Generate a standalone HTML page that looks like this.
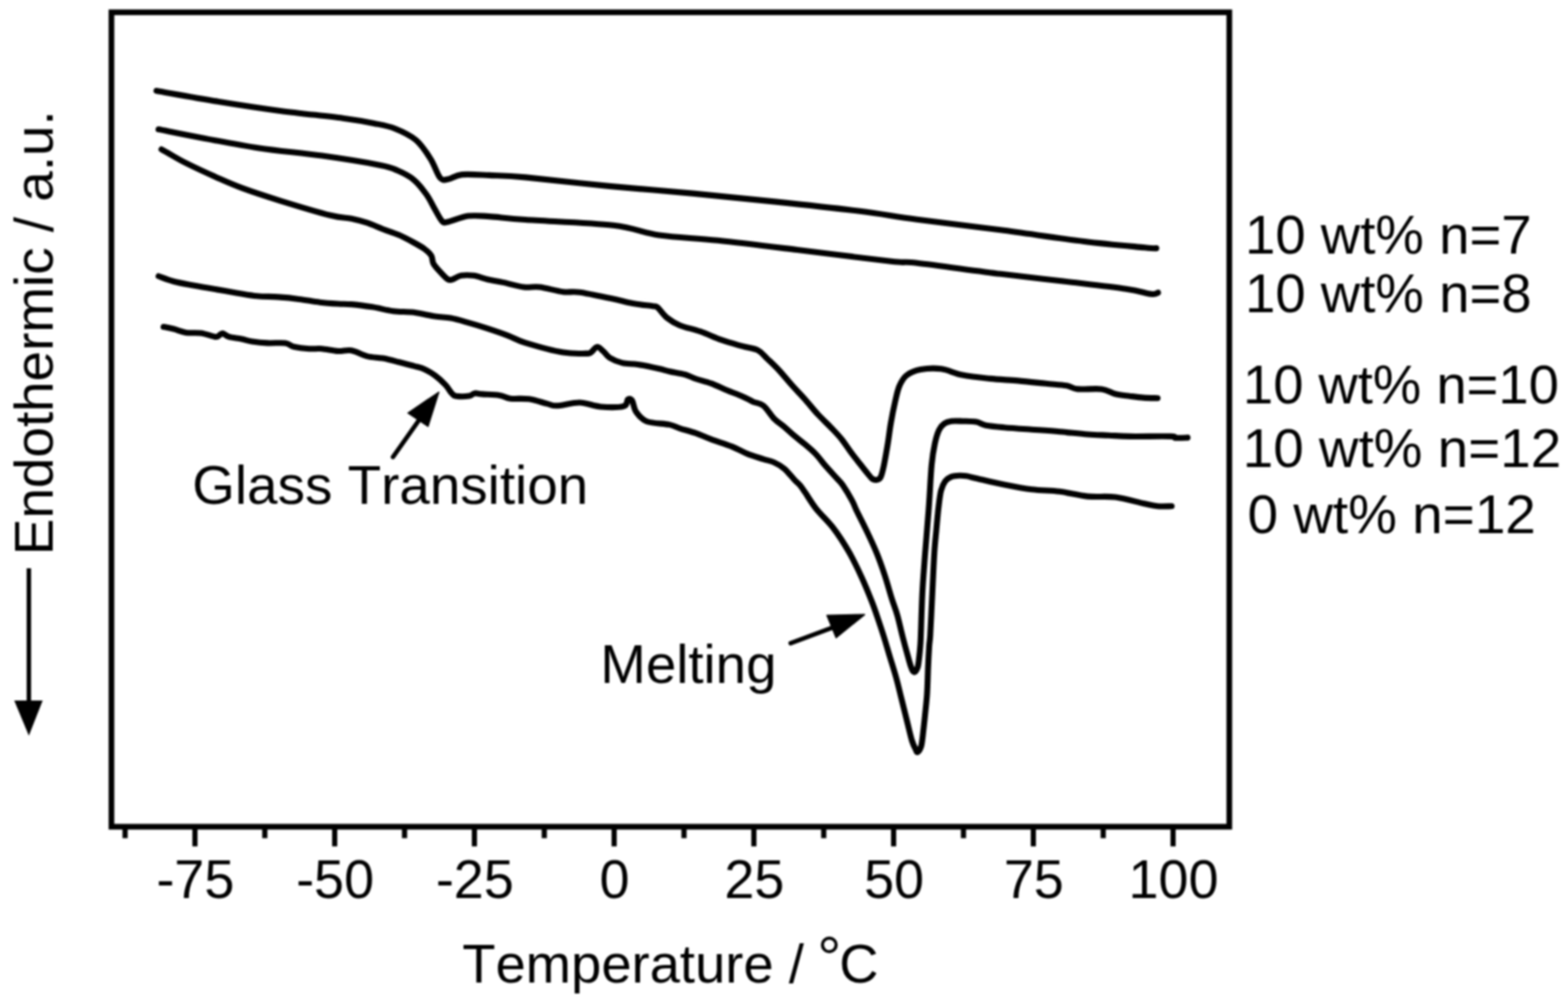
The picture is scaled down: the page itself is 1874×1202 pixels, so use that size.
<!DOCTYPE html>
<html lang="en">
<head>
<meta charset="utf-8">
<title>DSC thermograms</title>
<style>
html,body{margin:0;padding:0;background:#fff;}
body{width:1874px;height:1202px;overflow:hidden;}
svg{display:block;}
text{font-family:"Liberation Sans",sans-serif;fill:#000;font-kerning:none;}
.cv{fill:none;stroke:#000;stroke-width:7.1;stroke-linejoin:round;stroke-linecap:round;}
</style>
</head>
<body>
<svg width="1874" height="1202" viewBox="0 0 1874 1202">
<rect x="0" y="0" width="1874" height="1202" fill="#fff"/>
<defs><filter id="soft" x="0" y="0" width="100%" height="100%" filterUnits="userSpaceOnUse"><feGaussianBlur stdDeviation="0.8"/></filter></defs>
<g filter="url(#soft)">
<rect x="133.2" y="14.7" width="1336" height="973.1" fill="none" stroke="#000" stroke-width="6.8"/>
<line x1="233" y1="988" x2="233" y2="1011.3" stroke="#000" stroke-width="6.2"/>
<line x1="400" y1="988" x2="400" y2="1011.3" stroke="#000" stroke-width="6.2"/>
<line x1="567" y1="988" x2="567" y2="1011.3" stroke="#000" stroke-width="6.2"/>
<line x1="734" y1="988" x2="734" y2="1011.3" stroke="#000" stroke-width="6.2"/>
<line x1="901" y1="988" x2="901" y2="1011.3" stroke="#000" stroke-width="6.2"/>
<line x1="1068" y1="988" x2="1068" y2="1011.3" stroke="#000" stroke-width="6.2"/>
<line x1="1235" y1="988" x2="1235" y2="1011.3" stroke="#000" stroke-width="6.2"/>
<line x1="1402" y1="988" x2="1402" y2="1011.3" stroke="#000" stroke-width="6.2"/>
<line x1="149.5" y1="988" x2="149.5" y2="1001.5" stroke="#000" stroke-width="6.2"/>
<line x1="316.5" y1="988" x2="316.5" y2="1001.5" stroke="#000" stroke-width="6.2"/>
<line x1="483.5" y1="988" x2="483.5" y2="1001.5" stroke="#000" stroke-width="6.2"/>
<line x1="650.5" y1="988" x2="650.5" y2="1001.5" stroke="#000" stroke-width="6.2"/>
<line x1="817.5" y1="988" x2="817.5" y2="1001.5" stroke="#000" stroke-width="6.2"/>
<line x1="984.5" y1="988" x2="984.5" y2="1001.5" stroke="#000" stroke-width="6.2"/>
<line x1="1151.5" y1="988" x2="1151.5" y2="1001.5" stroke="#000" stroke-width="6.2"/>
<line x1="1318.5" y1="988" x2="1318.5" y2="1001.5" stroke="#000" stroke-width="6.2"/>
<text x="233.5" y="1072.9" font-size="64.5" text-anchor="middle">-75</text>
<text x="400.5" y="1072.9" font-size="64.5" text-anchor="middle">-50</text>
<text x="567.5" y="1072.9" font-size="64.5" text-anchor="middle">-25</text>
<text x="734.5" y="1072.9" font-size="64.5" text-anchor="middle">0</text>
<text x="901.5" y="1072.9" font-size="64.5" text-anchor="middle">25</text>
<text x="1068.5" y="1072.9" font-size="64.5" text-anchor="middle">50</text>
<text x="1235.5" y="1072.9" font-size="64.5" text-anchor="middle">75</text>
<text x="1402.5" y="1072.9" font-size="64.5" text-anchor="middle">100</text>
<text x="552.5" y="1173.7" font-size="65">Temperature / <tspan dy="-4.5" dx="-2" font-size="72">°</tspan><tspan dy="4.5" dx="-2.5">C</tspan></text>
<text transform="translate(62.5,663.3) rotate(-90)" font-size="65.5">Endothermic / a.u.</text>
<line x1="34.5" y1="679" x2="34.5" y2="845" stroke="#000" stroke-width="5.3"/>
<polygon points="17,837 51,837 34.5,879" fill="#000"/>
<path class="cv" d="M187.0,108.5C199.2,110.6 235.4,117.2 260.0,121.2C284.6,125.2 309.9,129.1 334.8,132.4C359.8,135.7 391.0,138.7 409.7,141.2C428.4,143.7 436.8,145.3 447.2,147.4C457.6,149.5 463.9,150.4 472.2,153.7C480.5,157.0 490.1,161.4 497.2,167.4C504.3,173.4 509.8,182.4 514.6,189.9C519.4,197.4 522.4,208.5 526.0,212.5C529.6,216.5 531.6,214.7 536.0,214.0C540.4,213.3 544.0,209.4 552.1,208.6C560.2,207.8 572.0,208.8 584.6,209.4C597.2,210.0 604.1,209.7 628.0,211.9C651.9,214.1 694.6,219.2 727.9,222.4C761.2,225.6 794.5,228.0 827.8,231.1C861.1,234.2 894.4,237.6 927.7,241.1C961.0,244.6 999.5,248.8 1027.6,252.3C1055.6,255.8 1068.0,258.6 1096.0,262.3C1124.0,266.1 1162.6,270.4 1195.9,274.8C1229.2,279.2 1267.1,285.0 1295.8,288.5C1324.5,292.0 1353.6,294.4 1368.0,295.8C1382.4,297.2 1379.7,296.5 1382.0,296.6"/>
<path class="cv" d="M189.5,154.5C198.3,156.2 222.3,161.2 242.4,164.9C262.4,168.6 286.1,173.4 309.8,176.9C333.5,180.4 360.7,182.7 384.8,186.1C408.9,189.5 439.7,194.5 454.7,197.4C469.7,200.3 468.0,200.7 474.7,203.6C481.4,206.5 488.9,210.1 494.7,214.9C500.5,219.7 505.5,226.5 509.6,232.3C513.8,238.1 516.5,244.5 519.6,249.8C522.7,255.1 525.9,261.7 528.4,264.3C530.9,266.9 529.4,266.3 534.6,265.3C539.8,264.3 551.3,259.2 559.6,258.1C567.9,257.0 573.2,257.9 584.6,258.6C596.0,259.3 603.3,260.7 628.0,262.5C652.7,264.3 706.3,266.2 732.9,269.3C759.5,272.4 767.0,278.0 787.8,281.0C808.6,284.0 830.3,284.4 857.8,287.3C885.3,290.2 918.2,294.3 952.7,298.5C987.2,302.7 1041.1,309.7 1065.0,312.3C1088.9,314.9 1074.2,311.7 1096.0,314.2C1117.8,316.7 1166.8,323.7 1195.9,327.3C1225.0,330.9 1245.8,333.0 1270.8,336.0C1295.8,339.0 1328.3,342.6 1345.8,345.2C1363.3,347.8 1369.3,350.6 1375.7,351.3C1382.1,352.1 1382.6,350.0 1384.0,349.7"/>
<path class="cv" d="M193.0,178.5C194.2,179.2 195.1,179.7 200.0,182.4C204.9,185.1 212.4,189.9 222.4,194.9C232.4,199.9 248.6,207.4 259.9,212.4C271.1,217.4 277.4,220.3 289.9,224.9C302.4,229.5 317.3,234.4 334.8,239.8C352.3,245.2 380.6,253.7 394.8,257.3C409.0,260.9 412.7,259.7 420.0,261.2C427.3,262.7 432.4,264.1 438.7,266.2C444.9,268.3 451.2,271.3 457.5,273.7C463.8,276.1 470.0,277.9 476.2,280.6C482.4,283.3 489.7,287.2 494.9,290.0C500.1,292.8 504.0,294.9 507.4,297.5C510.8,300.1 513.7,302.6 515.5,305.5C517.3,308.4 516.2,311.7 518.0,314.9C519.8,318.1 523.3,321.8 526.1,324.9C528.9,328.0 532.6,332.0 534.9,333.5C537.2,335.0 537.2,334.8 539.9,334.1C542.6,333.4 546.7,330.1 551.1,329.3C555.5,328.5 560.9,328.6 566.1,329.3C571.3,330.0 576.5,332.4 582.3,333.7C588.1,335.0 593.7,335.8 601.0,337.4C608.3,338.9 618.7,342.1 626.0,343.0C633.3,343.9 637.0,342.1 644.8,343.0C652.6,343.9 665.0,347.7 673.0,348.7C681.0,349.7 683.2,347.8 692.9,349.2C702.6,350.6 720.7,354.6 731.2,356.8C741.8,359.0 748.1,361.0 756.2,362.5C764.3,364.0 775.0,365.0 780.0,365.8C785.0,366.6 783.1,365.1 786.0,367.5C788.9,369.9 793.0,376.4 797.4,379.9C801.8,383.4 805.8,386.0 812.4,388.7C819.0,391.4 829.0,393.3 837.3,396.2C845.6,399.1 854.0,403.3 862.3,406.2C870.6,409.1 880.0,411.6 887.3,413.7C894.6,415.8 901.0,416.1 906.0,418.6C911.0,421.2 913.2,425.0 917.4,429.0C921.6,433.0 926.1,437.1 931.1,442.5C936.1,447.9 942.1,455.4 947.3,461.2C952.5,467.0 957.3,471.8 962.3,477.4C967.3,483.0 972.1,489.3 977.3,494.9C982.5,500.5 988.7,506.2 993.5,511.2C998.3,516.2 1001.8,519.7 1006.0,524.9C1010.2,530.1 1014.8,537.5 1018.5,542.4C1022.2,547.3 1024.9,550.5 1028.0,554.5C1031.1,558.5 1034.9,563.3 1037.3,566.2C1039.7,569.1 1040.6,570.8 1042.3,572.0C1044.0,573.2 1045.6,573.6 1047.3,573.4C1049.0,573.1 1050.8,573.2 1052.3,570.5C1053.8,567.8 1054.6,564.2 1056.1,557.4C1057.6,550.6 1059.6,538.6 1061.1,529.9C1062.5,521.2 1063.3,513.3 1064.8,505.0C1066.2,496.7 1068.1,487.3 1069.8,480.0C1071.5,472.7 1072.7,466.2 1075.0,461.0C1077.3,455.8 1079.3,451.7 1083.5,448.5C1087.7,445.3 1093.1,442.9 1100.0,441.6C1106.9,440.3 1116.7,439.7 1125.0,440.8C1133.3,441.9 1140.3,446.1 1150.0,448.0C1159.7,449.9 1172.2,451.2 1183.3,452.4C1194.4,453.6 1205.5,453.9 1216.6,454.9C1227.7,455.9 1240.2,457.3 1249.9,458.3C1259.6,459.3 1268.4,459.7 1274.8,460.8C1281.2,461.9 1281.1,464.2 1288.1,464.9C1295.0,465.6 1309.0,463.9 1316.5,464.9C1324.0,465.9 1327.5,469.4 1333.1,470.8C1338.6,472.2 1344.2,472.5 1349.8,473.2C1355.3,473.9 1360.8,474.7 1366.4,475.1C1372.0,475.5 1380.7,475.6 1383.5,475.7"/>
<path class="cv" d="M189.5,330.0C192.5,331.0 200.3,334.3 207.5,336.2C214.7,338.1 224.1,339.6 232.4,341.2C240.7,342.8 249.1,344.2 257.4,345.6C265.7,347.1 274.1,348.5 282.4,349.9C290.7,351.2 299.0,352.9 307.3,353.7C315.6,354.5 324.0,354.3 332.3,354.9C340.6,355.5 349.0,356.3 357.3,357.4C365.6,358.4 374.5,360.3 382.3,361.2C390.1,362.1 397.7,362.6 404.0,363.0C410.3,363.4 413.2,363.0 420.0,363.6C426.8,364.2 436.7,365.5 445.0,366.8C453.3,368.1 461.6,370.6 469.9,371.7C478.2,372.8 486.6,372.2 494.9,373.3C503.2,374.4 512.6,376.9 519.9,378.0C527.2,379.1 532.4,379.0 538.6,380.1C544.8,381.2 550.0,382.8 557.3,384.9C564.6,386.9 574.0,389.7 582.3,392.4C590.6,395.1 599.7,398.2 607.3,401.1C614.9,404.0 617.0,406.3 628.0,409.6C639.0,412.9 661.0,419.0 673.0,421.1C685.0,423.2 694.5,422.4 700.0,422.4C705.5,422.4 703.9,422.4 706.2,421.1C708.5,419.8 711.2,414.7 713.7,414.5C716.2,414.3 718.7,417.8 721.2,419.9C723.7,422.0 725.0,425.1 728.7,427.4C732.5,429.7 738.1,432.2 743.7,433.6C749.3,435.0 755.1,434.4 762.4,435.5C769.7,436.6 781.1,439.1 787.4,440.5C793.7,441.9 794.8,442.5 800.0,443.7C805.2,444.9 813.5,446.0 818.7,447.5C823.9,449.0 826.0,450.7 831.2,452.5C836.4,454.3 843.6,455.8 849.9,458.1C856.1,460.4 862.5,463.6 868.7,466.2C875.0,468.8 882.2,471.4 887.4,473.7C892.6,476.0 895.7,478.0 899.9,479.9C904.1,481.8 908.2,481.5 912.4,484.8C916.6,488.1 920.8,495.7 924.9,499.9C929.0,504.1 933.1,506.4 937.3,509.9C941.4,513.4 945.6,517.6 949.8,521.1C954.0,524.6 958.1,527.6 962.3,531.1C966.5,534.6 970.6,538.0 974.8,542.4C979.0,546.8 983.1,552.6 987.3,557.4C991.5,562.2 996.5,567.4 999.8,571.1C1003.1,574.8 1004.2,575.2 1007.3,579.8C1010.4,584.4 1015.9,593.6 1018.6,598.6C1021.3,603.6 1021.0,604.4 1023.7,610.0C1026.4,615.6 1031.0,624.2 1034.9,632.5C1038.9,640.8 1043.7,650.8 1047.4,659.9C1051.2,669.0 1054.3,678.0 1057.4,687.4C1060.5,696.8 1063.6,708.2 1066.1,716.1C1068.6,724.0 1070.3,727.6 1072.4,734.9C1074.5,742.2 1076.7,752.7 1078.6,760.0C1080.5,767.3 1081.9,772.7 1083.6,778.7C1085.3,784.7 1087.1,792.1 1088.6,796.2C1090.1,800.3 1091.1,802.9 1092.4,803.1C1093.8,803.3 1095.7,800.5 1096.7,797.5C1097.7,794.5 1098.1,789.2 1098.6,785.0C1099.1,780.8 1099.5,776.7 1099.8,772.5C1100.1,768.3 1100.1,770.4 1100.5,760.0C1100.9,749.6 1101.6,724.5 1102.3,709.9C1103.0,695.3 1104.0,683.8 1104.8,672.4C1105.6,661.0 1106.5,651.6 1107.3,641.2C1108.1,630.8 1109.2,618.1 1109.8,610.0C1110.4,601.9 1110.4,601.6 1111.0,592.4C1111.6,583.2 1112.5,565.3 1113.5,554.9C1114.5,544.5 1115.8,536.8 1117.3,529.9C1118.8,523.0 1120.4,517.7 1122.3,513.7C1124.2,509.8 1126.0,507.9 1128.5,506.2C1131.0,504.4 1133.4,503.7 1137.0,503.2C1140.6,502.7 1145.1,503.0 1150.0,503.2C1154.9,503.4 1161.9,503.3 1166.6,504.1C1171.3,504.9 1172.8,507.1 1178.3,508.2C1183.8,509.3 1190.8,509.9 1199.9,510.7C1209.1,511.5 1222.1,512.4 1233.2,513.2C1244.3,514.0 1255.4,514.7 1266.5,515.7C1277.6,516.7 1290.0,518.2 1299.8,519.0C1309.5,519.8 1316.7,519.8 1325.0,520.2C1333.3,520.6 1337.5,521.2 1349.8,521.4C1362.1,521.6 1389.8,521.1 1399.0,521.4C1408.2,521.7 1401.6,523.0 1405.0,523.2C1408.4,523.5 1416.9,523.0 1419.3,522.9"/>
<path class="cv" d="M195.5,390.5C197.5,390.9 203.0,391.9 207.5,393.0C212.0,394.1 217.0,396.6 222.4,397.4C227.8,398.2 234.1,397.2 239.9,398.0C245.7,398.8 253.8,401.9 257.4,402.4C261.0,402.9 260.1,401.8 261.5,401.1C262.9,400.4 264.1,398.1 266.1,398.3C268.1,398.5 269.9,401.3 273.6,402.4C277.4,403.5 284.0,404.0 288.6,404.9C293.2,405.8 295.9,407.2 301.1,408.0C306.3,408.8 313.1,409.6 319.8,409.9C326.5,410.2 335.9,409.2 341.1,409.9C346.3,410.6 346.2,413.1 351.0,414.2C355.8,415.3 364.2,416.3 369.8,416.7C375.4,417.1 379.1,416.2 384.8,416.7C390.5,417.2 398.1,419.2 404.0,419.5C409.9,419.8 414.2,417.7 420.0,418.7C425.8,419.7 432.4,424.0 438.7,425.6C444.9,427.2 451.2,427.0 457.5,428.1C463.8,429.2 470.0,430.9 476.2,432.5C482.4,434.1 489.7,435.9 494.9,437.4C500.1,438.8 503.2,439.3 507.4,441.2C511.6,443.1 515.7,445.6 519.9,448.7C524.1,451.8 529.1,456.4 532.4,459.9C535.7,463.4 537.8,467.7 539.9,469.9C542.0,472.1 541.4,472.7 544.9,473.2C548.4,473.7 557.4,473.6 561.1,473.0C564.8,472.4 564.8,470.2 567.3,469.9C569.8,469.5 571.1,470.5 576.1,470.9C581.1,471.3 591.7,471.5 597.3,472.4C602.9,473.3 604.0,475.5 609.8,476.2C615.6,476.9 624.9,475.8 632.3,476.8C639.7,477.8 648.5,481.1 654.0,482.4C659.5,483.7 659.0,485.0 665.5,484.8C672.0,484.6 684.2,480.8 692.9,481.0C701.6,481.2 709.1,485.3 717.9,486.0C726.6,486.7 740.0,486.8 745.4,485.3C750.8,483.9 748.7,478.4 750.4,477.3C752.1,476.2 753.7,476.1 755.4,478.6C757.1,481.1 757.5,488.2 760.4,492.3C763.3,496.4 766.3,501.0 772.9,503.5C779.5,506.0 793.4,506.0 800.0,507.4C806.6,508.8 807.3,510.1 812.5,511.8C817.7,513.5 825.0,515.2 831.2,517.4C837.4,519.6 842.6,522.2 849.9,524.9C857.2,527.6 867.6,530.7 874.9,533.6C882.2,536.5 887.4,539.9 893.6,542.4C899.9,544.9 907.2,546.9 912.4,548.6C917.6,550.3 920.8,550.5 924.9,552.4C929.0,554.3 933.1,556.4 937.3,559.9C941.4,563.4 946.7,570.3 949.8,573.6C952.9,576.9 954.0,577.3 956.1,579.8C958.2,582.3 959.2,583.9 962.4,588.6C965.6,593.3 969.9,600.9 975.5,608.0C981.1,615.1 989.4,622.4 996.0,631.0C1002.6,639.6 1009.2,650.1 1014.9,659.9C1020.5,669.7 1025.3,679.9 1029.9,689.9C1034.5,699.9 1039.1,711.4 1042.4,719.9C1045.7,728.4 1047.6,734.4 1049.9,741.1C1052.2,747.8 1053.8,752.7 1056.1,760.0C1058.4,767.3 1061.1,776.7 1063.6,785.0C1066.1,793.3 1068.8,801.6 1071.1,809.9C1073.4,818.2 1075.3,826.6 1077.4,834.9C1079.5,843.2 1081.5,851.6 1083.6,859.9C1085.7,868.2 1088.1,879.1 1089.9,884.9C1091.7,890.7 1093.1,892.6 1094.2,894.9C1095.3,897.2 1095.6,899.2 1096.7,898.6C1097.8,898.0 1099.9,895.5 1101.1,891.1C1102.2,886.7 1102.9,878.4 1103.6,872.4C1104.3,866.4 1104.8,862.2 1105.5,854.9C1106.2,847.6 1107.4,838.3 1108.0,828.7C1108.6,819.1 1108.8,806.9 1109.2,797.5C1109.6,788.1 1110.1,778.8 1110.5,772.5C1110.9,766.2 1111.3,766.3 1111.7,760.0C1112.1,753.7 1112.5,745.3 1113.0,734.9C1113.5,724.5 1114.2,709.9 1114.8,697.4C1115.4,684.9 1116.0,670.8 1116.7,659.9C1117.4,649.0 1118.4,640.8 1119.2,632.0C1120.0,623.2 1120.7,614.6 1121.6,607.0C1122.5,599.4 1123.3,591.5 1124.7,586.1C1126.1,580.8 1127.7,577.6 1129.7,574.9C1131.8,572.1 1134.2,570.7 1137.0,569.6C1139.8,568.5 1143.6,568.3 1146.6,568.2C1149.6,568.1 1151.7,568.2 1155.0,568.8C1158.3,569.3 1159.1,569.8 1166.6,571.5C1174.1,573.2 1188.8,576.8 1199.9,579.0C1211.0,581.2 1222.1,583.4 1233.2,584.8C1244.3,586.2 1255.4,585.9 1266.5,587.3C1277.6,588.7 1288.7,592.0 1299.8,593.1C1310.9,594.2 1322.0,592.6 1333.1,594.0C1344.2,595.4 1358.1,599.7 1366.4,601.5C1374.7,603.3 1377.4,604.2 1383.1,604.8C1388.8,605.3 1397.4,604.8 1400.3,604.8"/>
<text x="229.8" y="601.8" font-size="65.5">Glass Transition</text>
<text x="717.5" y="815.5" font-size="65.3">Melting</text>
<line x1="469.7" y1="546" x2="505" y2="496" stroke="#000" stroke-width="5.4" stroke-linecap="round"/>
<polygon points="524.5,468.5 487.5,493.5 511.5,509.5" fill="#000" stroke="#000" stroke-width="1.5" stroke-linejoin="round"/>
<line x1="945" y1="768.5" x2="1000" y2="748" stroke="#000" stroke-width="5.4" stroke-linecap="round"/>
<polygon points="1033.3,734.3 988.3,735.2 999.3,762" fill="#000" stroke="#000" stroke-width="1.5" stroke-linejoin="round"/>
<text x="1488" y="302.5" font-size="65.2">10 wt% n=7</text>
<text x="1488" y="373.3" font-size="65.2">10 wt% n=8</text>
<text x="1485.5" y="482" font-size="65">10 wt% n=10</text>
<text x="1485.3" y="558.2" font-size="65.5">10 wt% n=12</text>
<text x="1491" y="636.5" font-size="65.6">0 wt% n=12</text>
</g>
</svg>
</body>
</html>
